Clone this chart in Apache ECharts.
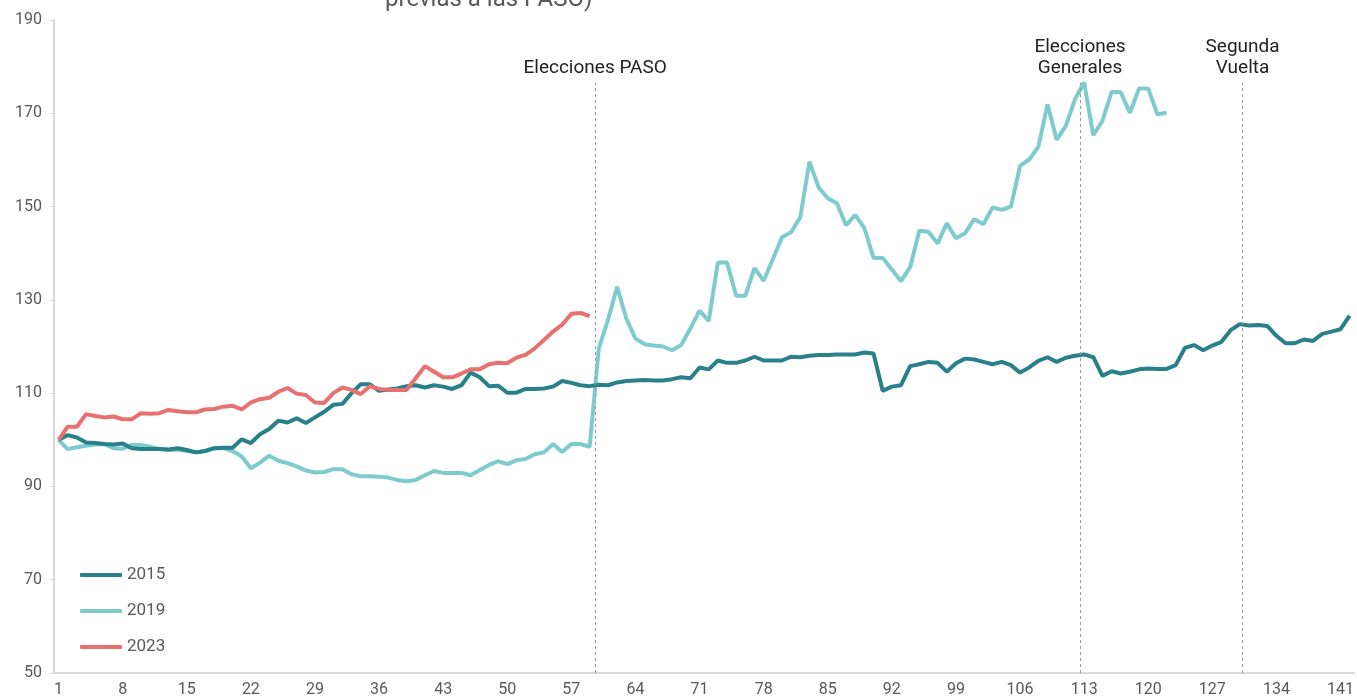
<!DOCTYPE html>
<html>
<head>
    <meta charset="utf-8">
    <title>ECharts</title>
    <script src="https://cdn.jsdelivr.net/npm/echarts@6/dist/echarts.min.js"></script>
    <style>
        html, body { margin: 0; padding: 0; background: #fff; }
    </style>
</head>
<body>
    <div id="main" style="width: 1357px; height: 698px;"></div>
    <script type="text/javascript">
        // day numbers on the x axis (1..142)
        var days = [];
        for (var d = 1; d <= 142; d++) days.push(String(d));

        var serie2015 = [
            100, 101.0, 100.5, 99.4, 99.3, 99.1, 99.0, 99.2, 98.2, 98.0,
            98.0, 98.0, 97.9, 98.2, 97.8, 97.3, 97.6, 98.2, 98.3, 98.3,
            100.1, 99.3, 101.2, 102.3, 104.1, 103.7, 104.6, 103.6, 104.8, 106.0,
            107.5, 107.7, 110.0, 111.9, 111.9, 110.5, 110.8, 111.0, 111.5, 111.7,
            111.2, 111.7, 111.4, 110.9, 111.7, 114.4, 113.4, 111.5, 111.6, 110.1,
            110.1, 110.9, 110.9, 111.0, 111.4, 112.6, 112.2, 111.7, 111.5, 111.8,
            111.7, 112.3, 112.6, 112.7, 112.8, 112.7, 112.7, 113.0, 113.4, 113.2,
            115.5, 115.1, 117.0, 116.5, 116.5, 117.0, 117.8, 117.0, 117.0, 117.0,
            117.8, 117.7, 118.0, 118.2, 118.2, 118.3, 118.3, 118.3, 118.7, 118.5,
            110.5, 111.4, 111.7, 115.8, 116.2, 116.7, 116.5, 114.6, 116.4, 117.4,
            117.2, 116.7, 116.2, 116.7, 116.0, 114.4, 115.5, 116.9, 117.7, 116.7,
            117.6, 118.0, 118.3, 117.7, 113.7, 114.7, 114.2, 114.6, 115.1, 115.3,
            115.2, 115.2, 116.0, 119.7, 120.3, 119.2, 120.2, 121.0, 123.5, 124.8,
            124.5, 124.6, 124.4, 122.3, 120.7, 120.7, 121.5, 121.2, 122.7, 123.2,
            123.7, 126.6
        ];

        var serie2019 = [
            100, 98.0, 98.4, 98.7, 99.0, 99.1, 98.2, 98.1, 98.9, 98.9,
            98.5, 98.0, 97.8, 97.9, 97.6, 97.3, 97.6, 98.2, 98.2, 97.6,
            96.4, 93.9, 95.1, 96.6, 95.5, 95.0, 94.3, 93.4, 93.0, 93.1,
            93.7, 93.7, 92.6, 92.2, 92.2, 92.1, 91.9, 91.4, 91.1, 91.4,
            92.4, 93.3, 92.9, 92.9, 92.9, 92.4, 93.5, 94.6, 95.4, 94.8,
            95.6, 95.9, 96.9, 97.3, 99.1, 97.4, 99.1, 99.1, 98.5, 119.6,
            125.7, 132.8, 126.0, 121.7, 120.5, 120.2, 120.0, 119.2, 120.3, 123.9,
            127.7, 125.5, 138.0, 138.0, 130.9, 130.9, 136.8, 134.1, 138.7, 143.4,
            144.5, 147.7, 159.6, 154.1, 151.8, 150.7, 146.0, 148.2, 145.4, 139.0,
            139.0, 136.5, 134.0, 137.0, 144.8, 144.6, 142.1, 146.4, 143.2, 144.3,
            147.3, 146.2, 149.8, 149.3, 150.0, 158.7, 160.1, 162.8, 171.9, 164.3,
            167.3, 173.0, 176.6, 165.3, 168.4, 174.6, 174.5, 170.1, 175.3, 175.3,
            169.8, 170.1
        ];

        var serie2023 = [
            100, 102.8, 102.8, 105.5, 105.1, 104.8, 105.0, 104.4, 104.4, 105.7,
            105.6, 105.7, 106.4, 106.1, 105.9, 105.9, 106.5, 106.6, 107.1, 107.3,
            106.5, 108.0, 108.7, 109.0, 110.3, 111.1, 109.9, 109.6, 108.0, 107.9,
            110.0, 111.2, 110.7, 109.8, 111.5, 110.9, 110.7, 110.7, 110.7, 113.2,
            115.8, 114.6, 113.4, 113.4, 114.2, 115.1, 115.1, 116.2, 116.5, 116.4,
            117.6, 118.2, 119.6, 121.4, 123.2, 124.7, 127.0, 127.2, 126.5
        ];

        // election events (position in day units, between two days)
        var eventNames = ['Elecciones PASO', 'Elecciones\nGenerales', 'Segunda\nVuelta'];
        var eventDays = [59.6, 112.55, 130.3];

        var colors = ['#28808a', '#7ecbce', '#e8706e'];

        var myChart = echarts.init(document.getElementById('main'));

        var eventLines = eventNames.map(function (name, i) {
            return [
                { coord: [eventDays[i], 50] },
                { coord: [eventDays[i], 176.6], name: name }
            ];
        });

        var option = {
            animation: false,
            color: colors,
            textStyle: { fontFamily: 'Roboto, "Noto Sans", sans-serif' },
            graphic: [{
                type: 'text',
                left: 385,
                top: -12,
                style: {
                    text: 'previas a las PASO)',
                    fill: '#595959',
                    font: '24px Roboto, sans-serif'
                }
            }],
            legend: {
                orient: 'vertical',
                left: 75,
                top: 561,
                icon: 'roundRect',
                itemWidth: 42,
                itemHeight: 4,
                itemGap: 18,
                textStyle: { color: '#595959', fontSize: 17, lineHeight: 18 },
                data: ['2015', '2019', '2023']
            },
            grid: { left: 54, right: 1, top: 20, bottom: 25 },
            xAxis: [{
                type: 'category',
                data: days,
                boundaryGap: true,
                axisLine: { lineStyle: { color: '#d9d9d9', width: 2 } },
                axisTick: { interval: 6, length: 5, lineStyle: { color: '#d9d9d9', width: 2 } },
                axisLabel: { interval: 6, color: '#595959', fontSize: 16, margin: 9 }
            }, {
                type: 'value',
                min: 0.5,
                max: 142.5,
                show: false
            }],
            yAxis: {
                type: 'value',
                min: 50,
                max: 190,
                interval: 20,
                axisLine: { show: true, lineStyle: { color: '#d9d9d9', width: 2 } },
                axisTick: { show: true, length: 4, lineStyle: { color: '#d9d9d9' } },
                axisLabel: { color: '#595959', fontSize: 16, margin: 12 },
                splitLine: { show: false }
            },
            series: [
                {
                    name: '2015', type: 'line', data: serie2015, symbol: 'none',
                    lineStyle: { width: 4, color: colors[0] }, z: 3
                },
                {
                    name: '2019', type: 'line', data: serie2019, symbol: 'none',
                    lineStyle: { width: 4, color: colors[1] }, z: 2
                },
                {
                    name: '2023', type: 'line', data: serie2023, symbol: 'none',
                    lineStyle: { width: 4, color: colors[2] }, z: 4
                },
                {
                    name: 'eventos', type: 'line', xAxisIndex: 1, data: [], z: 1,
                    markLine: {
                        silent: true,
                        symbol: ['none', 'none'],
                        lineStyle: { color: '#9a9a9a', width: 1, type: [3, 3] },
                        label: {
                            position: 'end',
                            formatter: '{b}',
                            color: '#222',
                            fontSize: 19,
                            lineHeight: 21,
                            distance: 4
                        },
                        data: eventLines
                    }
                }
            ]
        };

        myChart.setOption(option);
    </script>
</body>
</html>
